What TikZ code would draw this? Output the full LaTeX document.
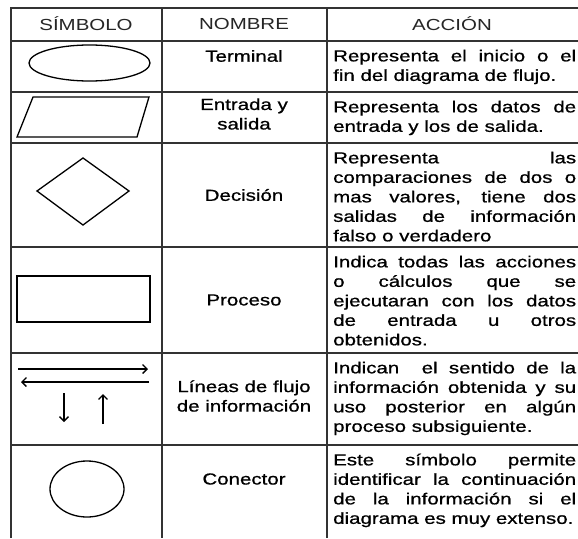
\documentclass[tikz,border=0pt]{standalone}
\usepackage{fontspec}
\setmainfont[FakeStretch=1.28]{Liberation Sans}
\newfontfamily\cellfont[FakeStretch=1.28,FakeBold=0.8]{Liberation Sans}
\usetikzlibrary{shapes,arrows.meta,positioning}

\newcommand{\jl}[1]{\makebox[243pt][s]{#1}}

\begin{document}
\begin{tikzpicture}[x=1pt,y=-1pt,
	grid/.style={draw=black!80,line width=1.6pt},
	sym/.style={draw,line width=1.3pt},
	flow/.style={sym,-{Straight Barb[length=4.5pt,width=9pt]}},
	celltext/.style={font=\fontsize{16}{19.5}\selectfont,inner sep=0pt},
	namebox/.style={celltext,font=\cellfont\fontsize{16}{19.5}\selectfont,align=center},
	actbox/.style={namebox,align=left,anchor=north west}]
			\useasboundingbox[fill=white] (0,0) rectangle (578,538);
			
			% table
			\draw[grid] (11,538) -- (11,8) -- (578,8);
			\draw[grid] (162,8) -- (162,538);
			\draw[grid] (327,8) -- (327,538);
			\foreach \y in {41,92,143,247,353,445}
				\draw[grid] (11,\y) -- (578,\y);
			
			% header
			\node[celltext,text=black!85] (simbolo) at (86,24) {SÍMBOLO};
			\node[celltext,text=black!85] (nombre) at (244,24) {NOMBRE};
			\node[celltext,text=black!85] (accion) at (452,24) {ACCIÓN};
			
			% symbols
			\draw[sym] (89.5,63) ellipse (60.5pt and 18pt);
			\draw[sym] (33,97) -- (149,97) -- (137,137) -- (17,137) -- cycle;
			\draw[sym] (37,191) -- (83,158) -- (129,191) -- (83,225) -- cycle;
			\draw[sym] (17,276) rectangle (150,322);
			\draw[flow] (18,369) -- (148,369);
			\draw[flow] (149,382) -- (21,382);
			\draw[flow] (64,393) -- (64,422);
			\draw[flow] (103,424) -- (103,394);
			\draw[sym] (87,489) ellipse (37pt and 28pt);
			
			% names
			\node[namebox] (terminal) at (244,56) {Terminal};
			\node[namebox] (entrada) at (244,114) {Entrada y\\salida};
			\node[namebox] (decision) at (244,195) {Decisión};
			\node[namebox] (proceso) at (244,300) {Proceso};
			\node[namebox] (lineas) at (244,396) {Líneas de flujo\\de información};
			\node[namebox] (conector) at (244,479) {Conector};
			
			% actions
			\node[actbox] (terminalacc) at (333,47.5) {\strut\jl{Representa el inicio o el}\\fin del diagrama de flujo.};
			\node[actbox] (entradaacc) at (333,98.5) {\strut\jl{Representa los datos de}\\entrada y los de salida.};
			\node[actbox] (decisionacc) at (333,149.5) {\strut\jl{Representa las}\\\jl{comparaciones de dos o}\\\jl{mas valores, tiene dos}\\\jl{salidas de información}\\falso o verdadero};
			\node[actbox] (procesoacc) at (333,253.5) {\strut\jl{Indica todas las acciones}\\\jl{o cálculos que se}\\\jl{ejecutaran con los datos}\\\jl{de entrada u otros}\\obtenidos.};
			\node[actbox] (lineasacc) at (333,359.5) {\strut\jl{Indican\ \ el sentido de la}\\\jl{información obtenida y su}\\\jl{uso posterior en algún}\\proceso subsiguiente.};
			\node[actbox] (conectoracc) at (333,451.5) {\strut\jl{Este símbolo permite}\\\jl{identificar la continuación}\\\jl{de la información si el}\\diagrama es muy extenso.};
\end{tikzpicture}
\end{document}
